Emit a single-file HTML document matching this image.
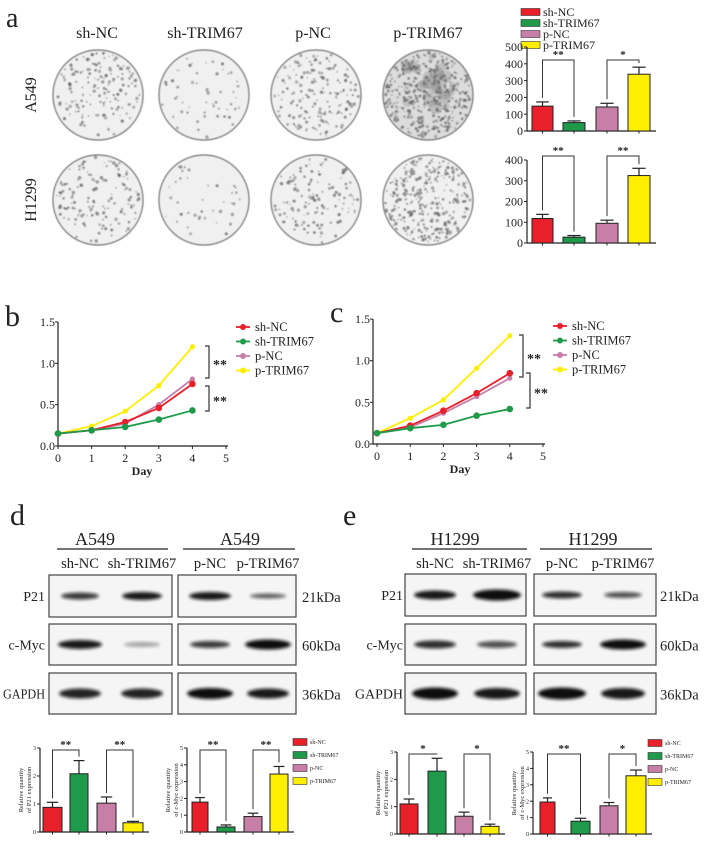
<!DOCTYPE html>
<html><head><meta charset="utf-8">
<style>
html,body{margin:0;padding:0;background:#fff;}
svg{display:block;}
text{font-family:"Liberation Serif",serif;fill:#222;}
</style></head>
<body>
<svg id="s" width="705" height="841" viewBox="0 0 705 841" xmlns="http://www.w3.org/2000/svg">
<defs>
<filter id="bl" x="-20%" y="-50%" width="140%" height="200%"><feGaussianBlur stdDeviation="1.6"/></filter>
<filter id="bl2"><feGaussianBlur stdDeviation="0.4"/></filter>
</defs>
<text x="6" y="27" font-size="28">a</text>
<g font-size="16" text-anchor="middle">
<text x="97" y="38">sh-NC</text><text x="205" y="38">sh-TRIM67</text>
<text x="313" y="38">p-NC</text><text x="428" y="38">p-TRIM67</text>
<text transform="translate(36,95) rotate(-90)">A549</text>
<text transform="translate(36,200) rotate(-90)">H1299</text>
</g>
<g id="dishes" filter="url(#bl2)"></g>
<g id="all"></g>
<text x="5" y="326" font-size="30">b</text>
<text x="330" y="322" font-size="30">c</text>
<text x="10" y="525" font-size="30">d</text>
<text x="343" y="525" font-size="30">e</text>
</svg>
<script>
let H='';
let seed=7;function rnd(){seed=(seed*16807)%2147483647;return (seed-1)/2147483646;}
const dc=[[98,204,316,428],[95,200]];
const counts=[[160,55,170,380],[140,40,130,300]];
let D='';
for(let r=0;r<2;r++)for(let c=0;c<4;c++){
 const cx=dc[0][c],cy=dc[1][r],R=45;
 D+=`<circle cx="${cx}" cy="${cy}" r="${R}" fill="${c==3&&r==0?'#dcdcdc':'#f0f0f0'}" stroke="#666" stroke-width="1.2"/>`;
 const n=counts[r][c];
 for(let i=0;i<n;i++){
  const a=rnd()*6.283,d=Math.sqrt(rnd())*(R-2);
  const x=cx+Math.cos(a)*d,y=cy+Math.sin(a)*d;
  const rr=0.7+rnd()*1.1;const g=Math.floor(80+rnd()*70);
  D+=`<circle cx="${x.toFixed(1)}" cy="${y.toFixed(1)}" r="${rr.toFixed(1)}" fill="rgb(${g},${g},${g})" opacity="0.7"/>`;
 }
 if(c==3&&r==0){for(let i=0;i<25;i++){const a=rnd()*6.283,d=Math.sqrt(rnd())*30;D+=`<circle cx="${cx+Math.cos(a)*d}" cy="${cy-10+Math.sin(a)*d}" r="${3+rnd()*4}" fill="#666" opacity="0.25"/>`;}}
}
document.getElementById('dishes').innerHTML=D;

const COL=['#e8202a','#1e9a4a','#c77fa8','#ffee00'];
const T=(x,y,s,fs,anchor,extra)=>`<text x="${x}" y="${y}" font-size="${fs}" text-anchor="${anchor||'start'}" ${extra||''}>${s}</text>`;
const L=(x1,y1,x2,y2,w,c)=>`<line x1="${x1}" y1="${y1}" x2="${x2}" y2="${y2}" stroke="${c||'#222'}" stroke-width="${w||1}"/>`;

function bars(ax,y0,ytop,max,step,fs,bx,vals,errs,stars,starY,labelfs,ylab){
 const sc=(y0-ytop)/max;let s='';
 const right=bx[3][1]+6;
 s+=L(ax,ytop,ax,y0,1.2)+L(ax,y0,right,y0,1.2);
 for(let v=0;v<=max+1e-9;v+=step){const y=y0-v*sc;s+=L(ax-3,y,ax,y,1);s+=T(ax-4,y+fs*0.35,Math.round(v*10)/10,fs,'end');}
 bx.forEach((b,i)=>{const h=vals[i]*sc,w=b[1]-b[0],cx=(b[0]+b[1])/2;
  const ye=y0-(vals[i]+errs[i])*sc;
  s+=L(cx,y0-h,cx,ye,1.2)+L(cx-w*0.3,ye,cx+w*0.3,ye,1.2);
  s+=`<rect x="${b[0]}" y="${y0-h}" width="${w}" height="${h}" fill="${COL[i]}" stroke="#222" stroke-width="1"/>`;
  s+=L(cx,y0,cx,y0+2.5,1);
 });
 [[0,1],[2,3]].forEach((p,k)=>{const x1=(bx[p[0]][0]+bx[p[0]][1])/2,x2=(bx[p[1]][0]+bx[p[1]][1])/2;
  const t1=y0-(vals[p[0]]+errs[p[0]])*sc-4,t2=y0-(vals[p[1]]+errs[p[1]])*sc-4;
  s+=`<polyline points="${x1},${t1} ${x1},${starY} ${x2},${starY} ${x2},${t2}" fill="none" stroke="#333" stroke-width="1"/>`;
  s+=T((x1+x2)/2,starY-2,stars[k],labelfs,'middle','font-weight="bold"');
 });
 if(ylab){s+=`<text transform="translate(${ylab[0]},${(y0+ytop)/2}) rotate(-90)" font-size="6.5" text-anchor="middle"><tspan x="0" dy="-3">Relative quantity</tspan><tspan x="0" dy="8">${ylab[1]}</tspan></text>`;}
 return s;
}
function legend(x,y,dy,w,h,fs,names){let s='';names.forEach((n,i)=>{s+=`<rect x="${x}" y="${y+i*dy-h/2}" width="${w}" height="${h}" fill="${COL[i]}" stroke="#333" stroke-width="0.6"/>`+T(x+w+3,y+i*dy+fs*0.35,n,fs);});return s;}
const NM=['sh-NC','sh-TRIM67','p-NC','p-TRIM67'];
H+=legend(521,12,11,19,7,12,NM);
const bxA=[[532,553],[563,585],[596,618],[628,650]];
H+=bars(527,131,47,500,100,12,bxA,[148,50,143,338],[25,10,22,42],['**','*'],60,11);
H+=bars(527,243,160,400,100,12,bxA,[118,28,95,325],[20,8,15,35],['**','**'],156,11);

function line(ax,x0,dx,y0,sy,data,lx,ly,brk){
 let s='';
 const Y=v=>y0-v*sy;
 s+=L(ax,Y(1.5),ax,y0,1.2)+L(ax,y0,x0+5*dx+2,y0,1.2);
 for(let v=0;v<=1.5;v+=0.5){s+=L(ax-3,Y(v),ax,Y(v),1);s+=T(ax-3,Y(v)+4,v.toFixed(1),12,'end');}
 for(let v=0;v<=5;v++){const x=x0+v*dx;s+=L(x,y0,x,y0+3,1);s+=T(x,y0+16,v,12,'middle');}
 s+=T(x0+2.5*dx,y0+29,'Day',12,'middle','font-weight="bold"');
 [3,2,0,1].forEach(i=>{const d=data[i];
  s+=`<polyline points="${d.map((v,j)=>(x0+j*dx)+','+Y(v)).join(' ')}" fill="none" stroke="${COL[i]}" stroke-width="1.8"/>`;
  d.forEach((v,j)=>{s+=`<circle cx="${x0+j*dx}" cy="${Y(v)}" r="${i==1||i==0?3.3:2.6}" fill="${COL[i]}"/>`;});
 });
 NM.forEach((n,i)=>{s+=L(lx-7,ly+i*14.5,lx+7,ly+i*14.5,1.8,COL[i])+`<circle cx="${lx}" cy="${ly+i*14.5}" r="3" fill="${COL[i]}"/>`+T(lx+12,ly+i*14.5+4,n,12.5);});
 brk.forEach(b=>{s+=`<polyline points="${b[0]-4},${b[1]} ${b[0]},${b[1]} ${b[0]},${b[2]} ${b[0]-4},${b[2]}" fill="none" stroke="#333" stroke-width="1.2"/>`;s+=T(b[0]+4,(b[1]+b[2])/2+7,'**',14,'start','font-weight="bold"');});
 return s;
}
H+=line(58,58,33.6,446,82.7,[[.15,.19,.29,.46,.75],[.15,.19,.23,.32,.43],[.15,.19,.27,.5,.81],[.15,.24,.42,.73,1.2]],243,327,[[209,346,378],[209,386,411]]);
H+=line(373,377,33.2,444,83.3,[[.13,.22,.4,.61,.85],[.13,.19,.23,.34,.42],[.13,.2,.37,.57,.79],[.13,.31,.53,.91,1.3]],560,326,[[523,335,377],[530,373,408]]);

function band(cx,cy,w,h,dark){return `<ellipse cx="${cx}" cy="${cy}" rx="${w/2}" ry="${h/2}" fill="#111" opacity="${dark}" filter="url(#bl)"/>`;}
function blot(cfg){
 let s='';
 const [l1,l2,r1,r2]=cfg.box;
 cfg.title.forEach(t=>{s+=T(t[0],545,t[1],18,'middle')+L(t[2],549,t[3],549,1.2);});
 cfg.cols.forEach(c=>{s+=T(c[0],568,c[1],14.5,'middle');});
 const rows=[[cfg.rows[0],cfg.rows[1],'P21','21kDa'],[624,665,'c-Myc','60kDa'],[673,714,'GAPDH','36kDa']];
 rows.forEach((r,ri)=>{
  [[l1,l2],[r1,r2]].forEach(b=>{s+=`<rect x="${b[0]}" y="${r[0]}" width="${b[1]-b[0]}" height="${r[1]-r[0]}" fill="#f5f5f5" stroke="#444" stroke-width="1.2"/>`;});
  s+=T(cfg.lblx,(r[0]+r[1])/2+5,r[2],14,'end',ri==2?`textLength="${cfg.glen}" lengthAdjust="spacingAndGlyphs"`:'');
  s+=T(cfg.kx,(r[0]+r[1])/2+6,r[3],14.5,'start');
  cfg.bands[ri].forEach((d,k)=>{s+=band(cfg.cols[k][0],(r[0]+r[1])/2,d[1],d[2],d[0]);});
 });
 return s;
}
H+=blot({box:[49,172,178,296],rows:[575,617],title:[[95,'A549',57,168],[240,'A549',183,295]],glen:42,
 cols:[[80,'sh-NC'],[142,'sh-TRIM67'],[210,'p-NC'],[268,'p-TRIM67']],lblx:45,kx:302,
 bands:[[[0.8,38,7],[0.95,40,8],[0.95,42,8],[0.65,36,5]],[[0.95,44,9],[0.35,36,5],[0.8,40,7],[1,46,10]],[[0.9,42,10],[0.9,42,10],[1,46,11],[0.95,42,10]]]});
H+=blot({box:[405,526,534,656],rows:[574,616],title:[[455,'H1299',412,527],[593,'H1299',540,652]],glen:48,
 cols:[[435,'sh-NC'],[497,'sh-TRIM67'],[562,'p-NC'],[623,'p-TRIM67']],lblx:403,kx:660,
 bands:[[[0.95,42,9],[1,48,11],[0.85,40,7],[0.7,38,6]],[[0.85,42,8],[0.7,40,7],[0.85,40,7],[1,46,10]],[[1,46,12],[0.95,46,11],[1,48,12],[0.95,44,11]]]});

const smLeg=['sh-NC','sh-TRIM67','p-NC','p-TRIM67'];
H+=bars(40,832,748,3,1,6,[[43,62],[70,88],[97,116],[123,143]],[0.88,2.08,1.03,0.33],[0.18,0.47,0.22,0.05],['**','**'],750,11,[26,'of P21 expression']);
H+=bars(187,832,748,5,1,6,[[192,208],[217,235],[244,262],[270,288]],[1.78,0.3,0.92,3.45],[0.27,0.12,0.2,0.45],['**','**'],750,11,[173,'of c-Myc expression']);
H+=legend(293,742,13,14,7,6,smLeg);
H+=bars(397,834,752,3,1,6,[[400,418],[428,446],[455,473],[481,499]],[1.1,2.3,0.65,0.28],[0.18,0.47,0.15,0.08],['*','*'],754,11,[383,'of P21 expression']);
H+=bars(533,834,752,5,1,6,[[540,555],[571,590],[600,618],[626,646]],[1.95,0.78,1.72,3.55],[0.25,0.18,0.2,0.35],['**','*'],754,11,[519,'of c-Myc expression']);
H+=legend(648,743,13,14,7,6,smLeg);
document.getElementById('all').innerHTML=H;
</script>
</body></html>
